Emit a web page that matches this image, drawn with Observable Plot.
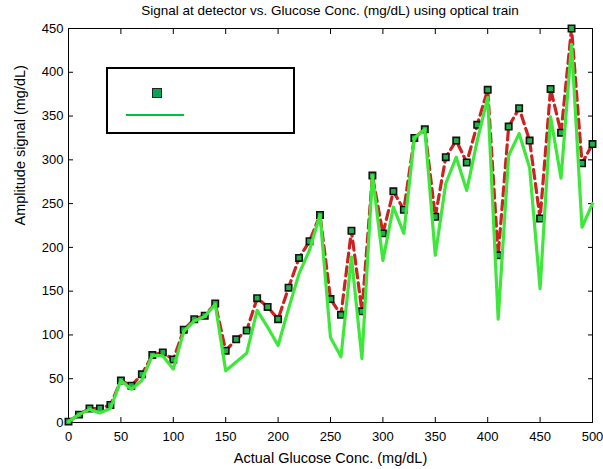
<!DOCTYPE html>
<html>
<head>
<meta charset="utf-8">
<script src="https://cdn.jsdelivr.net/npm/d3@7"></script>
<script src="https://cdn.jsdelivr.net/npm/@observablehq/plot@0.6"></script>
<style>
  html, body { margin: 0; padding: 0; background: #fff; }
  #wrap { position: relative; width: 603px; height: 469px; font-family: "Liberation Sans", Arial, sans-serif; }
  #title { position: absolute; left: 68px; width: 524px; top: 3px; text-align: center; font-size: 13.5px; color: #000; }
  #legend { position: absolute; left: 106px; top: 67px; width: 185px; height: 63px; border: 2px solid #000; background: #fff; }
  #legend .sq { position: absolute; left: 44px; top: 19px; width: 8px; height: 8px; background: #00a84f; border: 1.5px solid #222; }
  #legend .ln { position: absolute; left: 18px; top: 45px; width: 58px; height: 2px; background: #00c040; }
</style>
</head>
<body>
<div id="wrap">
  <div id="chart"></div>
  <div id="title">Signal at detector vs. Glucose Conc. (mg/dL) using optical train</div>
  <div id="legend"><div class="sq"></div><div class="ln"></div></div>
</div>
<script>
const conc = [0,10,20,30,40,50,60,70,80,90,100,110,120,130,140,150,160,170,180,190,200,210,220,230,240,250,260,270,280,290,300,310,320,330,340,350,360,370,380,390,400,410,420,430,440,450,460,470,480,490,500];
const measured = [1,9,16,16,20,48,42,55,77,80,72,106,118,122,136,82,95,105,142,132,118,154,188,207,237,141,123,219,127,282,216,264,243,325,335,235,303,322,297,340,380,191,338,359,322,233,381,331,450,296,318];
const model = [1,9,15,11,16,48,38,48,77,76,61,104,116,121,135,59,69,79,128,109,88,130,170,197,237,97,75,189,73,282,185,246,216,325,335,191,273,303,265,322,371,118,305,330,291,153,349,279,432,223,250];
const xTicks = [0,50,100,150,200,250,300,350,400,450,500];
const yTicks = [0,50,100,150,200,250,300,350,400,450];

const rows = conc.map((c, i) => ({c, m: measured[i], g: model[i]}));

const chart = Plot.plot({
  width: 603,
  height: 469,
  marginLeft: 68,
  marginRight: 11,
  marginTop: 28,
  marginBottom: 47,
  style: {fontFamily: "Liberation Sans, Arial, sans-serif", fontSize: "13px", background: "#fff", color: "#000"},
  x: {domain: [0, 500]},
  y: {domain: [0, 450]},
  marks: [
    Plot.frame({stroke: "#000", strokeWidth: 1}),
    Plot.axisX(xTicks, {anchor: "bottom", tickSize: -5, tickPadding: 14, label: null, fontSize: 13}),
    Plot.axisX(xTicks, {anchor: "top", tickSize: -5, text: null, label: null}),
    Plot.axisY(yTicks, {anchor: "left", tickSize: -5, tickPadding: 10, label: null, fontSize: 13}),
    Plot.axisY(yTicks, {anchor: "right", tickSize: -5, text: null, label: null}),
    Plot.text(["Actual Glucose Conc. (mg/dL)"], {frameAnchor: "bottom", dy: 40, fontSize: 14.5}),
    Plot.text(["Amplitude signal (mg/dL)"], {frameAnchor: "left", dx: -48, rotate: -90, fontSize: 14.5}),
    Plot.line(rows, {x: "c", y: "m", stroke: "#cc2222", strokeWidth: 3.2, strokeDasharray: "9,5"}),
    Plot.dot(rows, {x: "c", y: "m", symbol: "square", r: 3.6, fill: "#22b04a", stroke: "#111", strokeWidth: 1.6}),
    Plot.line(rows, {x: "c", y: "g", stroke: "#3ee83a", strokeWidth: 3.2})
  ]
});
document.getElementById("chart").appendChild(chart);
</script>
</body>
</html>
